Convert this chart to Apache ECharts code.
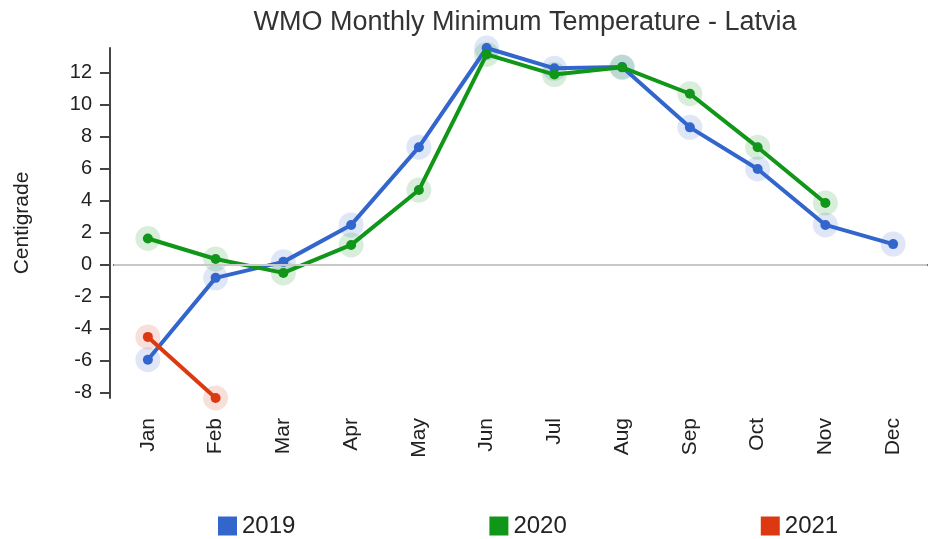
<!DOCTYPE html>
<html>
<head>
<meta charset="utf-8">
<script src="https://cdn.jsdelivr.net/npm/echarts@6/dist/echarts.min.js"></script>
<style>
html, body { margin: 0; padding: 0; background: #fff; }
#chart { width: 929px; height: 539px; }
</style>
</head>
<body>
<div id="chart"></div>
<script>
// months on the x axis
const months = ['Jan', 'Feb', 'Mar', 'Apr', 'May', 'Jun', 'Jul', 'Aug', 'Sep', 'Oct', 'Nov', 'Dec']
// monthly minimum temperatures
const y2019 = [-5.93, -0.81, 0.19, 2.5, 7.36, 13.56, 12.29, 12.37, 8.6, 6.0, 2.5, 1.3]
const y2020 = [1.65, 0.37, -0.5, 1.25, 4.68, 13.16, 11.9, 12.35, 10.7, 7.36, 3.87, null]
const y2021 = [-4.5, -8.32, null, null, null, null, null, null, null, null, null, null]
const years = ['2019', '2020', '2021']
const colors = ['#3366cc', '#109618', '#dc3912']
const halos = ['rgba(51,102,204,0.2)', 'rgba(16,150,24,0.2)', 'rgba(220,57,18,0.2)']

const font = 'Liberation Sans, Arial, sans-serif'
const allData = [y2019, y2020, y2021]

let series = []
// the lines with small dots (first, so the legend takes their colour)
allData.forEach((d, i) => {
  series.push({
    name: years[i],
    type: 'line',
    data: d,
    symbol: 'circle',
    symbolSize: 10,
    showSymbol: true,
    lineStyle: { color: colors[i], width: 4 },
    itemStyle: { color: colors[i] },
    z: 3
  })
})
// halo circles behind the lines
allData.forEach((d, i) => {
  series.push({
    name: years[i],
    type: 'scatter',
    data: d,
    symbolSize: 25,
    itemStyle: { color: halos[i] },
    z: 1,
    silent: true
  })
})
// zero line
series[3].markLine = {
  silent: true,
  symbol: 'none',
  label: { show: false },
  lineStyle: { color: '#c8c8c8', width: 2, type: 'solid' },
  data: [{ yAxis: 0 }]
}

let myChart = echarts.init(document.getElementById('chart'))
let option = {
  animation: false,
  title: {
    text: 'WMO Monthly Minimum Temperature - Latvia',
    left: 520,
    textAlign: 'center',
    top: 4,
    textStyle: { fontFamily: font, fontSize: 27, fontWeight: 'normal', color: '#333' }
  },
  legend: {
    data: years.map((y, i) => ({ name: y, itemStyle: { color: colors[i], opacity: 1 } })),
    icon: 'rect',
    left: 213,
    top: 509,
    itemWidth: 19,
    itemHeight: 19,
    itemGap: 194,
    textStyle: { fontFamily: font, fontSize: 24, color: '#222' }
  },
  grid: {
    left: 114,
    right: 2,
    top: 48,
    bottom: 141
  },
  xAxis: {
    type: 'category',
    data: months,
    boundaryGap: true,
    axisLine: { lineStyle: { color: '#444', width: 2 } },
    axisTick: { alignWithLabel: true, length: 11, lineStyle: { color: '#444', width: 2 } },
    axisLabel: { rotate: 90, fontFamily: font, fontSize: 21, color: '#222', margin: 20 },
    splitLine: { show: false }
  },
  yAxis: {
    type: 'value',
    min: -8.32,
    max: 13.56,
    splitNumber: 11,
    offset: 4,
    name: 'Centigrade',
    nameLocation: 'middle',
    nameRotate: 90,
    nameGap: 77,
    nameTextStyle: { fontFamily: font, fontSize: 21, color: '#222' },
    axisLine: { show: true, lineStyle: { color: '#444', width: 2 } },
    axisTick: { show: true, length: 10, lineStyle: { color: '#444', width: 2 } },
    axisLabel: { fontFamily: font, fontSize: 20, color: '#222', margin: 18, showMinLabel: false, showMaxLabel: false },
    splitLine: { show: false }
  },
  series: series
}
myChart.setOption(option, true)
</script>
</body>
</html>
